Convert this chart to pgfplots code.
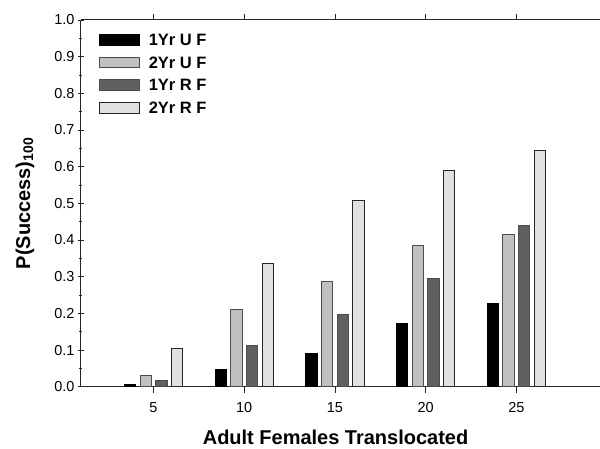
\documentclass[border=0pt]{standalone}
\usepackage{fontspec}
\setmainfont{Liberation Sans}
\usepackage{pgfplots}
\pgfplotsset{compat=1.18}

\definecolor{uone}{RGB}{0,0,0}
\definecolor{utwo}{RGB}{192,192,192}
\definecolor{rone}{RGB}{96,96,96}
\definecolor{rtwo}{RGB}{224,224,224}

\begin{document}
\begin{tikzpicture}
  \begin{axis}[
      at={(0,0)}, anchor=south west,
      scale only axis, width=519pt, height=367pt,
      xmin=1, xmax=29.58, ymin=0, ymax=1,
      axis x line=box, axis y line=left,
      axis line style={-, line width=1pt, black!85},
      every tick/.style={black!85, line width=0.8pt},
      major tick length=6pt, minor tick length=3pt,
      xtick={5,10,15,20,25},
      xticklabels={5,10,15,20,25},
      ytick={0,0.1,0.2,0.3,0.4,0.5,0.6,0.7,0.8,0.9,1.0},
      yticklabels={0.0,0.1,0.2,0.3,0.4,0.5,0.6,0.7,0.8,0.9,1.0},
      minor y tick num=1,
      tick label style={font=\fontsize{14.5}{16}\selectfont},
      xticklabel style={yshift=-6pt},
      /pgf/number format/assume math mode=true,
      xlabel={Adult Females Translocated},
      ylabel={P(Success)\textsubscript{100}},
      label style={font=\bfseries\fontsize{20}{22}\selectfont},
      xlabel style={at={(axis description cs:0.491,-0.139)}, anchor=center},
      ylabel style={at={(axis description cs:-0.108,0.5)}, anchor=center},
      ybar=4.4pt, bar width=11.3pt,
      every axis plot/.append style={draw=black!70, line width=0.9pt},
      legend image code/.code={\draw[#1] (0pt,-5.35pt) rectangle (40pt,5.35pt);},
      legend cell align=left,
      legend style={at={(axis description cs:0.0347,0.9613)}, anchor=north west,
        draw=none, fill=none, inner sep=0pt, outer sep=0pt,
        font=\bfseries\fontsize{16.5}{18}\selectfont,
        nodes={inner sep=0pt, text height=11pt, text depth=0pt},
        row sep=11pt, column sep=9pt},
    ]
    % 1 year, unrestricted
    \addplot[fill=uone, draw=black] coordinates
      {(5,0.007) (10,0.047) (15,0.091) (20,0.172) (25,0.227)};
    % 2 year, unrestricted
    \addplot[fill=utwo] coordinates
      {(5,0.031) (10,0.210) (15,0.286) (20,0.384) (25,0.416)};
    % 1 year, restricted
    \addplot[fill=rone] coordinates
      {(5,0.016) (10,0.112) (15,0.197) (20,0.295) (25,0.440)};
    % 2 year, restricted
    \addplot[fill=rtwo, draw=black!85] coordinates
      {(5,0.105) (10,0.335) (15,0.508) (20,0.589) (25,0.644)};
    \legend{1Yr U F, 2Yr U F, 1Yr R F, 2Yr R F}
  \end{axis}
  \path[use as bounding box] (-81pt,-59pt) rectangle (519pt,387pt);
\end{tikzpicture}
\end{document}
